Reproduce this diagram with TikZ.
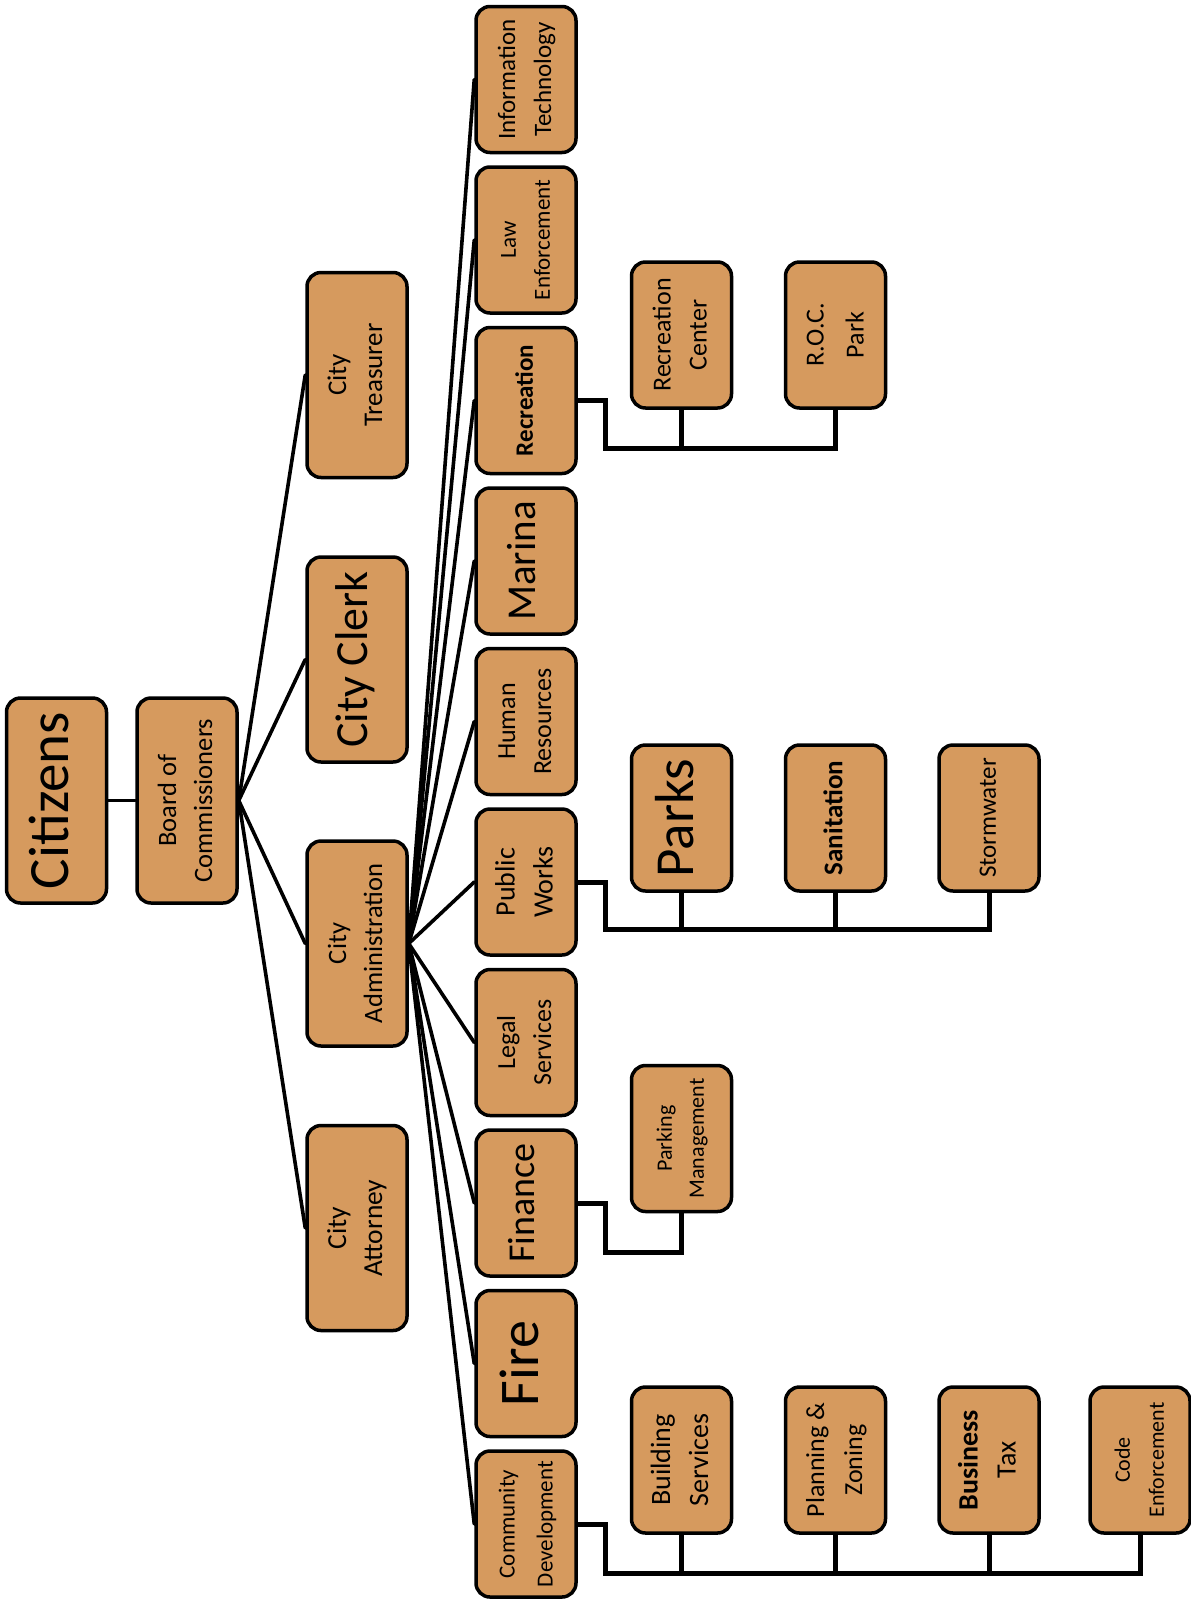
\documentclass[tikz,border=0pt]{standalone}
\usepackage{fontspec}
\usepackage{graphicx}
\setmainfont{Carlito}
\definecolor{boxfill}{RGB}{214,154,94}
\newcommand\rl[3]{\rotatebox{90}{\fontsize{#1}{#2}\selectfont\begin{tabular}{@{}c@{}}#3\end{tabular}}}
\tikzset{
  box/.style={draw=black, line width=3.5pt, fill=boxfill, rounded corners=14pt,
    minimum width=100pt, minimum height=146pt, inner sep=0pt, text=black},
  tall/.style={box, minimum height=205pt},
  tree/.style={line width=3.6pt, line cap=round},
  elbow/.style={line width=5pt, line join=miter},
}
\begin{document}
\begin{tikzpicture}[x=1pt,y=-1pt]
\useasboundingbox (0,0) rectangle (1191,1599);
% level 1-2
\node[tall] (cit) at (56.5,800.5) {\rl{57}{62}{Citizens}};
\node[tall] (bod) at (187,800.5) {\rl{26.5}{36}{Board of\\Commissioners}};
% level 3
\node[tall] (tre) at (357,375) {\rl{27}{36}{City\\Treasurer}};
\node[tall] (clk) at (357,659.5) {\rl{46}{50}{City Clerk}};
\node[tall] (adm) at (357,943.5) {\rl{26.5}{36}{City\\Administration}};
\node[tall] (att) at (357,1228) {\rl{27.5}{36}{City\\Attorney}};
% level 4
\node[box] (it)  at (526,79.5)  {\rl{25}{36}{Information\\Technology}};
\node[box] (law) at (526,240)   {\rl{23}{34}{Law\\Enforcement}};
\node[box] (rec) at (526,400.5) {\rl{25}{34}{\bfseries Recreation}};
\node[box] (mar) at (526,561)   {\rl{41}{46}{Marina}};
\node[box] (hr)  at (526,721.5) {\rl{26}{36}{Human\\Resources}};
\node[box] (pw)  at (526,882)   {\rl{28}{38}{Public\\Works}};
\node[box] (leg) at (526,1042.5){\rl{26}{36}{Legal\\Services}};
\node[box] (fin) at (526,1203)  {\rl{38}{44}{Finance}};
\node[box] (fir) at (526,1363.5){\rl{56}{60}{Fire}};
\node[box] (cd)  at (526,1524)  {\rl{23}{38}{Community\\Development}};
% level 5
\node[box] (rc)  at (681.5,335) {\rl{26}{36}{Recreation\\Center}};
\node[box] (roc) at (835.5,335) {\rl{26}{40}{R.O.C.\\Park}};
\node[box] (prk) at (681.5,818) {\rl{55}{58}{Parks}};
\node[box] (san) at (835.5,818) {\rl{27}{34}{\bfseries Sanitation}};
\node[box] (stw) at (989,818)   {\rl{25}{34}{Stormwater}};
\node[box] (pm)  at (681.5,1138.5) {\rl{22}{32}{Parking\\Management}};
\node[box] (bs)  at (681.5,1460) {\rl{28}{38}{Building\\Services}};
\node[box] (pz)  at (835.5,1460) {\rl{26}{38}{Planning \&\\Zoning}};
\node[box] (bt)  at (989,1460)   {\rl{28}{38}{\bfseries Business\\Tax}};
\node[box] (ce)  at (1140,1460)  {\rl{22}{34}{Code\\Enforcement}};
% connectors
\coordinate (bodR) at (bod.east);
\coordinate (admR) at (adm.east);
\draw[tree] (cit.east) -- (bod.west);
\foreach \n in {tre,clk,adm,att} \draw[tree] (bodR) -- (\n.west);
\foreach \n in {it,law,rec,mar,hr,pw,leg,fin,fir,cd} \draw[tree] (admR) -- (\n.west);
% elbow connectors
\coordinate (recBus) at (605,448);
\draw[elbow] (rec.east) -| (recBus) -| (roc.south);
\draw[elbow] (recBus -| rc.south) -- (rc.south);
\coordinate (pwBus) at (605,929);
\draw[elbow] (pw.east) -| (pwBus) -| (stw.south);
\draw[elbow] (pwBus -| prk.south) -- (prk.south);
\draw[elbow] (pwBus -| san.south) -- (san.south);
\coordinate (finBus) at (605,1252);
\draw[elbow] (fin.east) -| (finBus) -| (pm.south);
\coordinate (cdBus) at (605,1573);
\draw[elbow] (cd.east) -| (cdBus) -| (ce.south);
\draw[elbow] (cdBus -| bs.south) -- (bs.south);
\draw[elbow] (cdBus -| pz.south) -- (pz.south);
\draw[elbow] (cdBus -| bt.south) -- (bt.south);
\end{tikzpicture}
\end{document}
